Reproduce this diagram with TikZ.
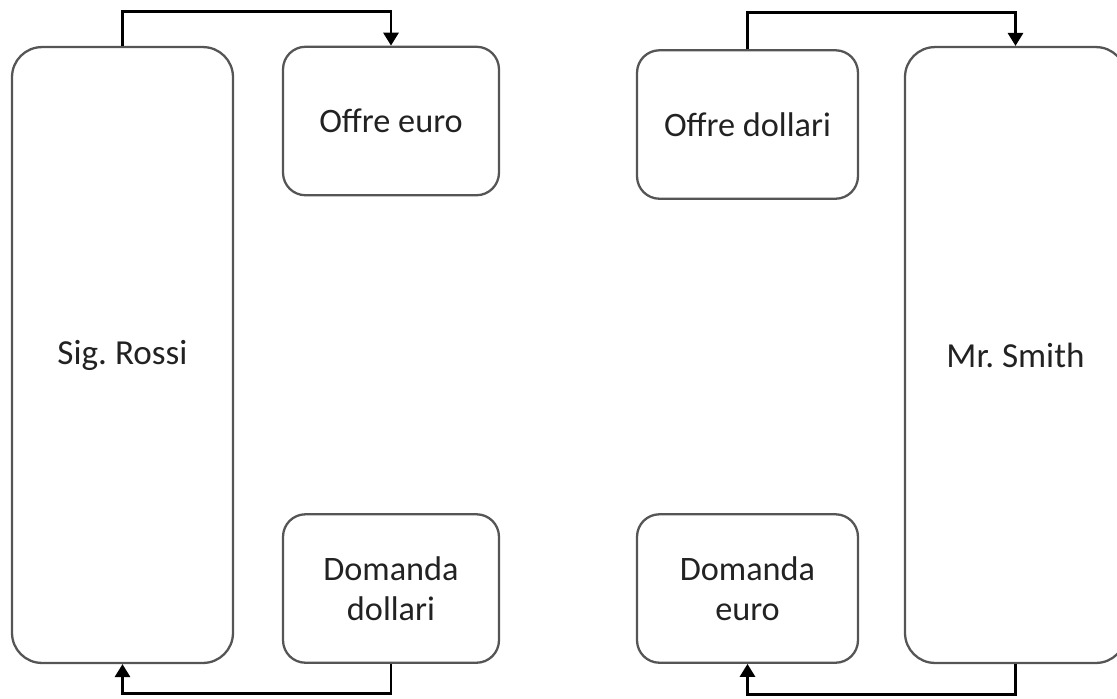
\documentclass[tikz,border=0pt]{standalone}
\usepackage{fontspec}
\setmainfont{Carlito}
\usetikzlibrary{arrows.meta}
\definecolor{boxline}{HTML}{555555}
\definecolor{boxtext}{HTML}{222222}
\tikzset{
  agent/.style={draw=boxline, line width=1.3pt, rounded corners=0.6cm, minimum width=4.42cm, minimum height=12.32cm, inner sep=0pt, text=boxtext, font=\fontsize{20}{23}\selectfont},
  market/.style={draw=boxline, line width=1.3pt, rounded corners=0.45cm, minimum width=4.32cm, minimum height=2.97cm, inner sep=0pt, align=center, text=boxtext, font=\fontsize{19.5}{23}\selectfont},
  flow/.style={line width=1.7pt, line join=miter, -{Triangle[length=0.26cm,width=0.3cm]}}
}
\begin{document}
\begin{tikzpicture}[x=0.02cm, y=-0.02cm]
				\clip (0,0) rectangle (1117,698);
				
				% Sig. Rossi
				\node[agent] (rossi) at (122.5,355) {Sig.\ Rossi};
				\node[market] (oeuro) at (391,121) {Offre euro};
				\node[market] (ddollari) at (391,588.5) {Domanda\\dollari};
				
				% Mr. Smith
				\node[market, minimum width=4.42cm] (odollari) at (747.5,124.5) {Offre dollari};
				\node[market, minimum width=4.42cm] (deuro) at (747.5,588.5) {Domanda\\euro};
				\node[agent] (smith) at (1015.5,355) {Mr.\ Smith};
				
				\draw[flow] (rossi.north) -- ++(0,-34) -| (oeuro.north);
				\draw[flow] (ddollari.south) -- ++(0,30) -| (rossi.south);
				\draw[flow] (odollari.north) -- ++(0,-37) -| (smith.north);
				\draw[flow] (smith.south) -- ++(0,30) -| (deuro.south);
			\end{tikzpicture}
\end{document}
